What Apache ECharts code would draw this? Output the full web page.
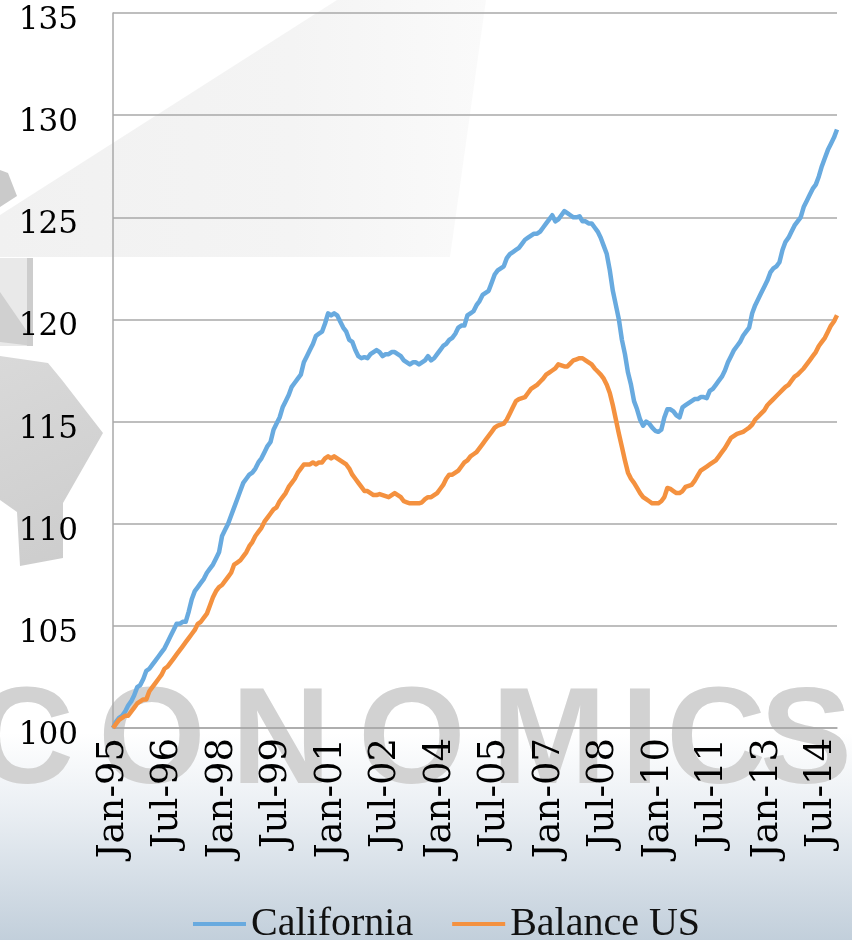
<!DOCTYPE html>
<html>
<head>
<meta charset="utf-8">
<script src="https://cdn.jsdelivr.net/npm/echarts@6/dist/echarts.min.js"></script>
<style>
  html, body { margin: 0; padding: 0; background: #ffffff; }
  #chart { width: 852px; height: 940px; }
</style>
</head>
<body>
<div id="chart"></div>
<script>
// Monthly index levels, Jan 1995 = 100
const monthNames = ['Jan','Feb','Mar','Apr','May','Jun','Jul','Aug','Sep','Oct','Nov','Dec'];
const startYear = 1995;
const monthCount = 240;
const seriesNames = ['California', 'Balance US'];
const yTicks = { min: 100, max: 135, step: 5 };

const categories = [];
for (let i = 0; i < monthCount; i++) {
  const yr = startYear + Math.floor(i / 12);
  categories.push(monthNames[i % 12] + '-' + String(yr % 100).padStart(2, '0'));
}

const california = [
  100.0, 100.3, 100.5, 100.6, 100.8, 101.1, 101.3, 101.6, 102.0, 102.1, 102.4, 102.8,
  102.9, 103.1, 103.3, 103.5, 103.7, 103.9, 104.2, 104.5, 104.8, 105.1, 105.1, 105.2,
  105.2, 105.7, 106.3, 106.7, 106.9, 107.1, 107.3, 107.6, 107.8, 108.0, 108.3, 108.6,
  109.4, 109.7, 110.0, 110.4, 110.8, 111.2, 111.6, 112.0, 112.2, 112.4, 112.5, 112.7,
  113.0, 113.2, 113.5, 113.8, 114.0, 114.6, 114.9, 115.2, 115.7, 116.0, 116.3, 116.7,
  116.9, 117.1, 117.3, 117.9, 118.2, 118.5, 118.8, 119.2, 119.3, 119.4, 119.8, 120.3,
  120.2, 120.3, 120.2, 119.9, 119.6, 119.4, 119.0, 118.9, 118.5, 118.2, 118.1, 118.15,
  118.1, 118.3, 118.4, 118.5, 118.4, 118.2, 118.3, 118.3, 118.4, 118.4, 118.3, 118.2,
  118.0, 117.9, 117.8, 117.9, 117.9, 117.8, 117.9, 118.0, 118.2, 118.0, 118.1, 118.3,
  118.5, 118.7, 118.8, 119.0, 119.1, 119.3, 119.6, 119.7, 119.7, 120.2, 120.3, 120.4,
  120.7, 120.9, 121.2, 121.3, 121.4, 121.8, 122.2, 122.4, 122.5, 122.6, 123.0, 123.2,
  123.3, 123.4, 123.5, 123.7, 123.9, 124.0, 124.1, 124.2, 124.2, 124.3, 124.5, 124.7,
  124.9, 125.1, 124.8, 124.9, 125.1, 125.3, 125.2, 125.1, 125.0, 125.0, 125.05, 124.8,
  124.8, 124.7, 124.7, 124.5, 124.3, 124.0, 123.6, 123.2, 122.4, 121.4, 120.7, 120.0,
  119.0, 118.3, 117.4, 116.8, 116.0, 115.6, 115.1, 114.8, 115.0, 114.9, 114.7, 114.55,
  114.5, 114.6, 115.2, 115.6, 115.6, 115.5, 115.3, 115.2, 115.7, 115.8, 115.9, 116.0,
  116.1, 116.1, 116.2, 116.2, 116.15, 116.5, 116.6, 116.8, 117.0, 117.2, 117.5, 117.9,
  118.2, 118.5, 118.7, 118.9, 119.2, 119.4, 119.6, 120.3, 120.7, 121.0, 121.3, 121.6,
  121.9, 122.3, 122.5, 122.6, 122.8, 123.4, 123.8, 124.0, 124.3, 124.6, 124.8, 125.0,
  125.5, 125.8, 126.1, 126.4, 126.6, 127.0, 127.5, 127.9, 128.3, 128.6, 128.9, 129.3
];

const balanceUS = [
  100.0, 100.2, 100.4, 100.5, 100.6, 100.6, 100.8, 101.0, 101.2, 101.3, 101.4, 101.4,
  101.8, 102.0, 102.2, 102.4, 102.6, 102.9, 103.0, 103.2, 103.4, 103.6, 103.8, 104.0,
  104.2, 104.4, 104.6, 104.8, 105.1, 105.2, 105.4, 105.6, 106.0, 106.4, 106.7, 106.9,
  107.0, 107.2, 107.4, 107.6, 108.0, 108.1, 108.2, 108.4, 108.6, 108.9, 109.1, 109.4,
  109.6, 109.8, 110.1, 110.3, 110.5, 110.7, 110.8, 111.1, 111.3, 111.5, 111.8, 112.0,
  112.2, 112.5, 112.7, 112.9, 112.9, 112.9, 113.0, 112.9, 113.0, 113.0, 113.2, 113.3,
  113.2, 113.3, 113.2, 113.1, 113.0, 112.9, 112.7, 112.4, 112.2, 112.0, 111.8, 111.6,
  111.6, 111.5, 111.4, 111.4, 111.45, 111.4, 111.35, 111.3, 111.4, 111.5, 111.4, 111.3,
  111.1, 111.05, 111.0, 111.0, 111.0, 111.0, 111.05, 111.2, 111.3, 111.3, 111.4, 111.5,
  111.7, 111.9, 112.2, 112.4, 112.4, 112.5, 112.6, 112.8, 113.0, 113.1, 113.3, 113.4,
  113.5, 113.7, 113.9, 114.1, 114.3, 114.5, 114.7, 114.8, 114.85, 114.9, 115.1, 115.4,
  115.7, 116.0, 116.1, 116.15, 116.2, 116.4, 116.6, 116.7, 116.8, 116.95, 117.1, 117.3,
  117.4, 117.5, 117.6, 117.8, 117.75, 117.7, 117.7, 117.85, 118.0, 118.05, 118.1, 118.1,
  118.0, 117.9, 117.8, 117.6, 117.45, 117.3, 117.1, 116.8, 116.4, 115.8, 115.1, 114.4,
  113.75, 113.1, 112.5, 112.2, 112.0, 111.75, 111.5, 111.3, 111.2, 111.1, 111.0, 111.0,
  111.0, 111.1, 111.3, 111.75, 111.7, 111.6, 111.5, 111.5, 111.6, 111.8, 111.85, 111.9,
  112.1, 112.35, 112.6, 112.7, 112.8, 112.9, 113.0, 113.1, 113.3, 113.5, 113.7, 113.95,
  114.2, 114.3, 114.4, 114.45, 114.5, 114.6, 114.7, 114.85, 115.1, 115.25, 115.4, 115.55,
  115.8, 115.95, 116.1, 116.25, 116.4, 116.55, 116.7, 116.8, 117.0, 117.2, 117.3, 117.45,
  117.6, 117.8, 118.0, 118.2, 118.4, 118.7, 118.9, 119.1, 119.4, 119.7, 119.9, 120.2
];

// Faded brand mark behind the plot
const markColor = '#d2d2d2';
const watermarkLetters = [
  { ch: 'C', x: 24 }, { ch: 'O', x: 152 }, { ch: 'N', x: 281 }, { ch: 'O', x: 412 },
  { ch: 'M', x: 549 }, { ch: 'I', x: 640 }, { ch: 'C', x: 716 }, { ch: 'S', x: 806 }
];

const backdrop = [
  {
    type: 'rect', z: -100, silent: true,
    shape: { x: 0, y: 0, width: 852, height: 940 },
    style: {
      fill: new echarts.graphic.LinearGradient(0, 0, 0, 1, [
        { offset: 0, color: '#ffffff' },
        { offset: 0.78, color: '#ffffff' },
        { offset: 0.87, color: '#e8edf2' },
        { offset: 1, color: '#c2cfdb' }
      ])
    }
  },
  {
    type: 'polygon', z: -90, silent: true,
    shape: { points: [[0, 215], [337, 0], [486, 0], [450, 257], [0, 257]] },
    style: {
      fill: new echarts.graphic.LinearGradient(0, 0, 1, 0, [
        { offset: 0, color: '#f1f1f1' },
        { offset: 0.6, color: '#f4f4f4' },
        { offset: 1, color: '#fafafa' }
      ])
    }
  },
  {
    type: 'polygon', z: -89, silent: true,
    shape: { points: [[0, 170], [8, 173], [17, 196], [0, 207]] },
    style: { fill: '#cacaca' }
  },
  {
    type: 'polygon', z: -89, silent: true,
    shape: { points: [[0, 258], [33, 258], [33, 346], [0, 346]] },
    style: { fill: '#e9e9e9' }
  },
  {
    type: 'polygon', z: -88, silent: true,
    shape: { points: [[0, 292], [33, 340], [33, 346], [0, 342]] },
    style: { fill: '#d0d0d0' }
  },
  {
    type: 'polygon', z: -88, silent: true,
    shape: { points: [[27, 258], [33, 258], [33, 346], [27, 346]] },
    style: { fill: '#cdcdcd' }
  },
  {
    type: 'polygon', z: -89, silent: true,
    shape: { points: [[0, 356], [48, 363], [62, 380], [103, 433], [63, 503], [63, 558], [20, 566], [17, 512], [0, 500]] },
    style: {
      fill: new echarts.graphic.LinearGradient(0, 0, 1, 1, [
        { offset: 0, color: '#d9d9d9' },
        { offset: 1, color: '#cccccc' }
      ])
    }
  }
].concat(watermarkLetters.map(function (l) {
  return {
    type: 'text', z: -80, silent: true,
    style: {
      text: l.ch, x: l.x, y: 745,
      align: 'center', verticalAlign: 'middle',
      font: 'bold 138px "Liberation Sans", sans-serif',
      fill: markColor,
      shadowBlur: 4, shadowColor: '#d2d2d2'
    }
  };
}));

const chart = echarts.init(document.getElementById('chart'), null, { renderer: 'canvas' });

chart.setOption({
  animation: false,
  backgroundColor: 'transparent',
  graphic: { elements: backdrop },
  grid: { left: 113, right: 15, top: 13, bottom: 212, containLabel: false },
  legend: {
    data: seriesNames,
    top: 899,
    left: 188,
    icon: 'rect',
    itemWidth: 53,
    itemHeight: 4,
    itemGap: 39,
    textStyle: { fontFamily: '"Liberation Serif", serif', fontSize: 40, color: '#111111' }
  },
  xAxis: {
    type: 'category',
    data: categories,
    boundaryGap: false,
    axisLine: { show: true, lineStyle: { color: '#a9a9a9', width: 1.5 } },
    axisTick: { show: false },
    splitLine: { show: false },
    axisLabel: {
      interval: 17,
      rotate: 90,
      margin: 10,
      fontFamily: '"DejaVu Serif", serif',
      fontSize: 37,
      color: '#000000'
    }
  },
  yAxis: {
    type: 'value',
    min: yTicks.min,
    max: yTicks.max,
    interval: yTicks.step,
    axisLine: { show: true, lineStyle: { color: '#a9a9a9', width: 1.5 } },
    axisTick: { show: false },
    splitLine: { show: true, lineStyle: { color: '#a9a9a9', width: 1.5 } },
    axisLabel: {
      margin: 35,
      formatter: function (v) { return '{n|' + v + '}'; },
      rich: {
        n: {
          padding: [16, 0, 0, 0],
          fontFamily: '"DejaVu Serif", serif',
          fontSize: 31,
          color: '#000000'
        }
      }
    }
  },
  series: [
    {
      name: seriesNames[0],
      type: 'line',
      data: california,
      showSymbol: false,
      symbol: 'none',
      color: '#68aadf',
      lineStyle: { width: 4.5, color: '#68aadf', join: 'round' },
      z: 3
    },
    {
      name: seriesNames[1],
      type: 'line',
      data: balanceUS,
      showSymbol: false,
      symbol: 'none',
      color: '#f4913f',
      lineStyle: { width: 4.5, color: '#f4913f', join: 'round' },
      z: 3
    }
  ]
});
</script>
</body>
</html>
